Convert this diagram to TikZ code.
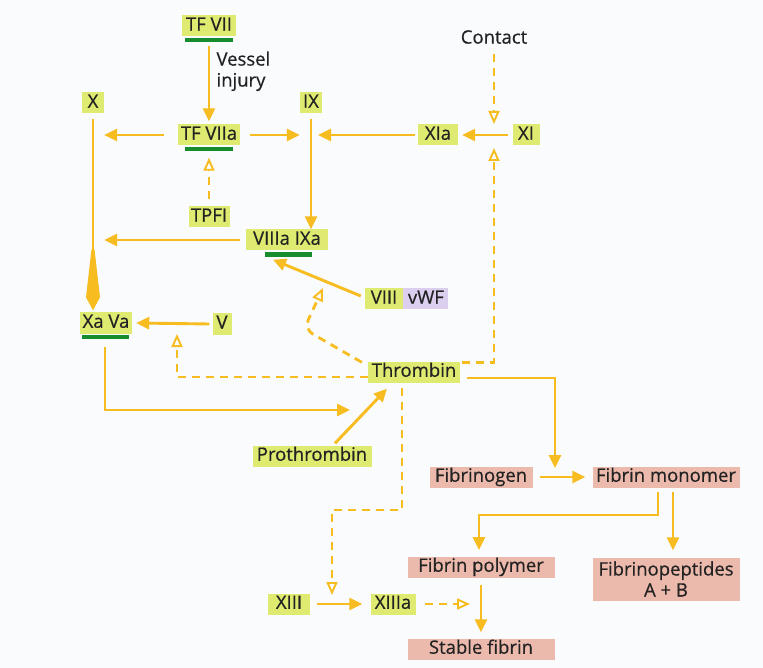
\documentclass[tikz,border=0pt]{standalone}
\usepackage{fontspec}
\setmainfont{Open Sans}
\newfontfamily\lblfont{Open Sans}[FakeBold=0.5]
\usetikzlibrary{arrows.meta,calc}
\definecolor{ygreen}{RGB}{222,234,112}
\definecolor{pinkc}{RGB}{236,186,172}
\definecolor{purp}{RGB}{220,206,238}
\definecolor{gbarc}{RGB}{22,140,44}
\definecolor{arrc}{RGB}{247,188,32}
\definecolor{txt}{RGB}{34,34,34}
\definecolor{bgc}{RGB}{249,251,253}
\begin{document}
\begin{tikzpicture}[x=1pt,y=-1pt,
  lab/.style={font=\lblfont\fontsize{18.5}{21}\selectfont, text=txt},
  yb/.style={lab, fill=ygreen, inner xsep=1.5pt, inner ysep=1.25pt, text height=14pt, text depth=4.5pt},
  pb/.style={yb, fill=pinkc},
  arr/.style={draw=arrc, line width=2.9pt, -{Triangle[length=13pt,width=12pt]}},
  plain/.style={draw=arrc, line width=2.9pt},
  darr/.style={draw=arrc, line width=2.8pt, dash pattern=on 8pt off 6pt, -{Triangle[open,line width=1.9pt,length=13pt,width=11pt]}},
  gbar/.style={fill=gbarc}]
\fill[bgc] (0,0) rectangle (763,668);
\useasboundingbox (0,0) rectangle (763,668);

% nodes
\node[yb, minimum width=54pt] (tfvii) at (209,26) {TF VII};
\node[lab, anchor=north west, align=left] (vessel) at (213,48) {Vessel\\injury};
\node[yb, minimum width=22pt] (x) at (93,103) {X};
\node[yb, minimum width=62pt] (tfviia) at (209,135) {TF VIIa};
\node[yb, minimum width=22pt] (ix) at (311,103) {IX};
\node[yb, minimum width=40pt] (xia) at (438,135) {XIa};
\node[yb, minimum width=27pt] (xi) at (526,135) {XI};
\node[lab] (contact) at (494,37) {Contact};
\node[yb, minimum width=41pt] (tpfi) at (209,217) {TPFI};
\node[yb, minimum width=82pt] (viiiaixa) at (287,240) {VIIIa IXa};
\node[yb, minimum width=38pt] (viii) at (384,299) {VIII};
\node[yb, fill=purp, minimum width=45pt, anchor=west] (vwf) at (viii.east) {vWF};
\node[yb, minimum width=52pt] (xava) at (106,323) {Xa Va};
\node[yb, minimum width=19pt] (v) at (222,324) {V};
\node[yb, minimum width=92pt] (thrombin) at (414,372) {Thrombin};
\node[yb, minimum width=119pt] (prothrombin) at (312,456) {Prothrombin};
\node[pb, minimum width=103pt] (fibrinogen) at (481,477) {Fibrinogen};
\node[pb, minimum width=147pt] (fibmon) at (666,477) {Fibrin monomer};
\node[pb, minimum width=147pt] (fibpoly) at (481,567) {Fibrin polymer};
\node[lab, fill=pinkc, minimum width=147pt, minimum height=43pt, align=center, inner sep=1pt] (fibpep) at (666,579) {Fibrinopeptides\\A + B};
\node[yb, minimum width=42pt] (xiii) at (289,604) {XIII};
\node[yb, minimum width=45pt] (xiiia) at (393,604) {XIIIa};
\node[pb, minimum width=147pt] (stable) at (481,649) {Stable fibrin};

% green bars
\fill[gbar] ($(tfvii.south)+(-24,1.5)$) rectangle ($(tfvii.south)+(24,5.5)$);
\fill[gbar] ($(tfviia.south)+(-24,1.5)$) rectangle ($(tfviia.south)+(24,5.5)$);
\fill[gbar] ($(viiiaixa.south)+(-22,1.5)$) rectangle ($(viiiaixa.south)+(25,6)$);
\fill[gbar] ($(xava.south)+(-24,1)$) rectangle ($(xava.south)+(23,5.5)$);

% coordinates
\coordinate (cIXr) at (318,135);
\coordinate (cXIdn) at (494,124);
\coordinate (cXIup) at (494,148);
\coordinate (cbend) at (304,329);
\coordinate (cVIIIup) at (323,288);
\coordinate (cVtip) at (177,334);
\coordinate (cProTip) at (350,410);
\coordinate (cFibTip) at (555,468);
\coordinate (cMid) at (479,515);
\coordinate (cPolyTip) at (479,550);
\coordinate (cT1) at (402,510);
\coordinate (cXIIItip) at (332,595);
\coordinate (cStabIn) at (470,604);
\coordinate (cXaTip) at ([yshift=2pt]x.south |- xava.north);

% solid connectors
\draw[arr] ([yshift=-9pt]tfvii.south) -- ([yshift=3pt]tfviia.north);
\draw[arr] ([xshift=-14pt]tfviia.west) -- (tfviia.west -| x.east);
\draw[arr] ([xshift=10pt]tfviia.east) -- (tfviia.east -| ix.west);
\draw[arr] ([xshift=-3pt]xia.west) -- (cIXr);
\draw[arr] ([xshift=-4pt]xi.west) -- ([xshift=4pt]xia.east);
\draw[arr] ([yshift=-5pt]ix.south) -- (ix.south |- viiiaixa.north);
\draw[arr] ([xshift=-6pt]viiiaixa.west) -- (viiiaixa.west -| x.east);
\draw[plain] ([yshift=-5pt]x.south) -- ([yshift=14pt]cXaTip);
\fill[arrc] (cXaTip) -- ++(-7,-13) -- ++(5.5,-48) -- ++(3,0) -- ++(5.5,48) -- cycle;
\draw[arr] ([xshift=-4pt,yshift=3pt]viii.west) -- ([xshift=-14pt,yshift=-9pt]viiiaixa.south);
\draw[arr] ([xshift=-3pt]v.west) -- ([xshift=4pt]xava.east);
\draw[arr] ([xshift=-1pt,yshift=-13pt]xava.south) |- (cProTip);
\draw[arr] ([xshift=23pt,yshift=2pt]prothrombin.north) -- ([xshift=-27pt,yshift=-6pt]thrombin.south);
\draw[arr] ([xshift=7pt,yshift=-6pt]thrombin.east) -| (cFibTip);
\draw[arr] ([xshift=7pt]fibrinogen.east) -- ([xshift=-7pt]fibmon.west);
\draw[arr] ([xshift=-8pt,yshift=-4pt]fibmon.south) |- (cMid) -- (cPolyTip);
\draw[arr] ([xshift=7pt,yshift=-4pt]fibmon.south) -- ([xshift=7pt,yshift=7pt]fibpep.north);
\draw[arr] ([xshift=7pt]xiii.east) -- ([xshift=-8pt]xiiia.west);
\draw[arr] ([yshift=-7pt]fibpoly.south) -- ([yshift=6pt]stable.north);

% dashed connectors
\draw[darr] ([yshift=-7pt]contact.south) -- (cXIdn);
\draw[darr] ([xshift=2pt,yshift=-1pt]thrombin.north east) -| (cXIup);
\draw[darr] ([yshift=7pt]tpfi.north) -- ([yshift=-12pt]tfviia.south);
\draw[darr, rounded corners=10pt] ([xshift=-6pt,yshift=-1pt]thrombin.north west) -- (cbend) -- (cVIIIup);
\draw[darr] ([yshift=-5pt]thrombin.west) -| (cVtip);
\draw[darr] ([xshift=-12pt,yshift=-5pt]thrombin.south) -- (cT1) -| (cXIIItip);
\draw[darr] ([xshift=9pt]xiiia.east) -- (cStabIn);
\end{tikzpicture}
\end{document}
